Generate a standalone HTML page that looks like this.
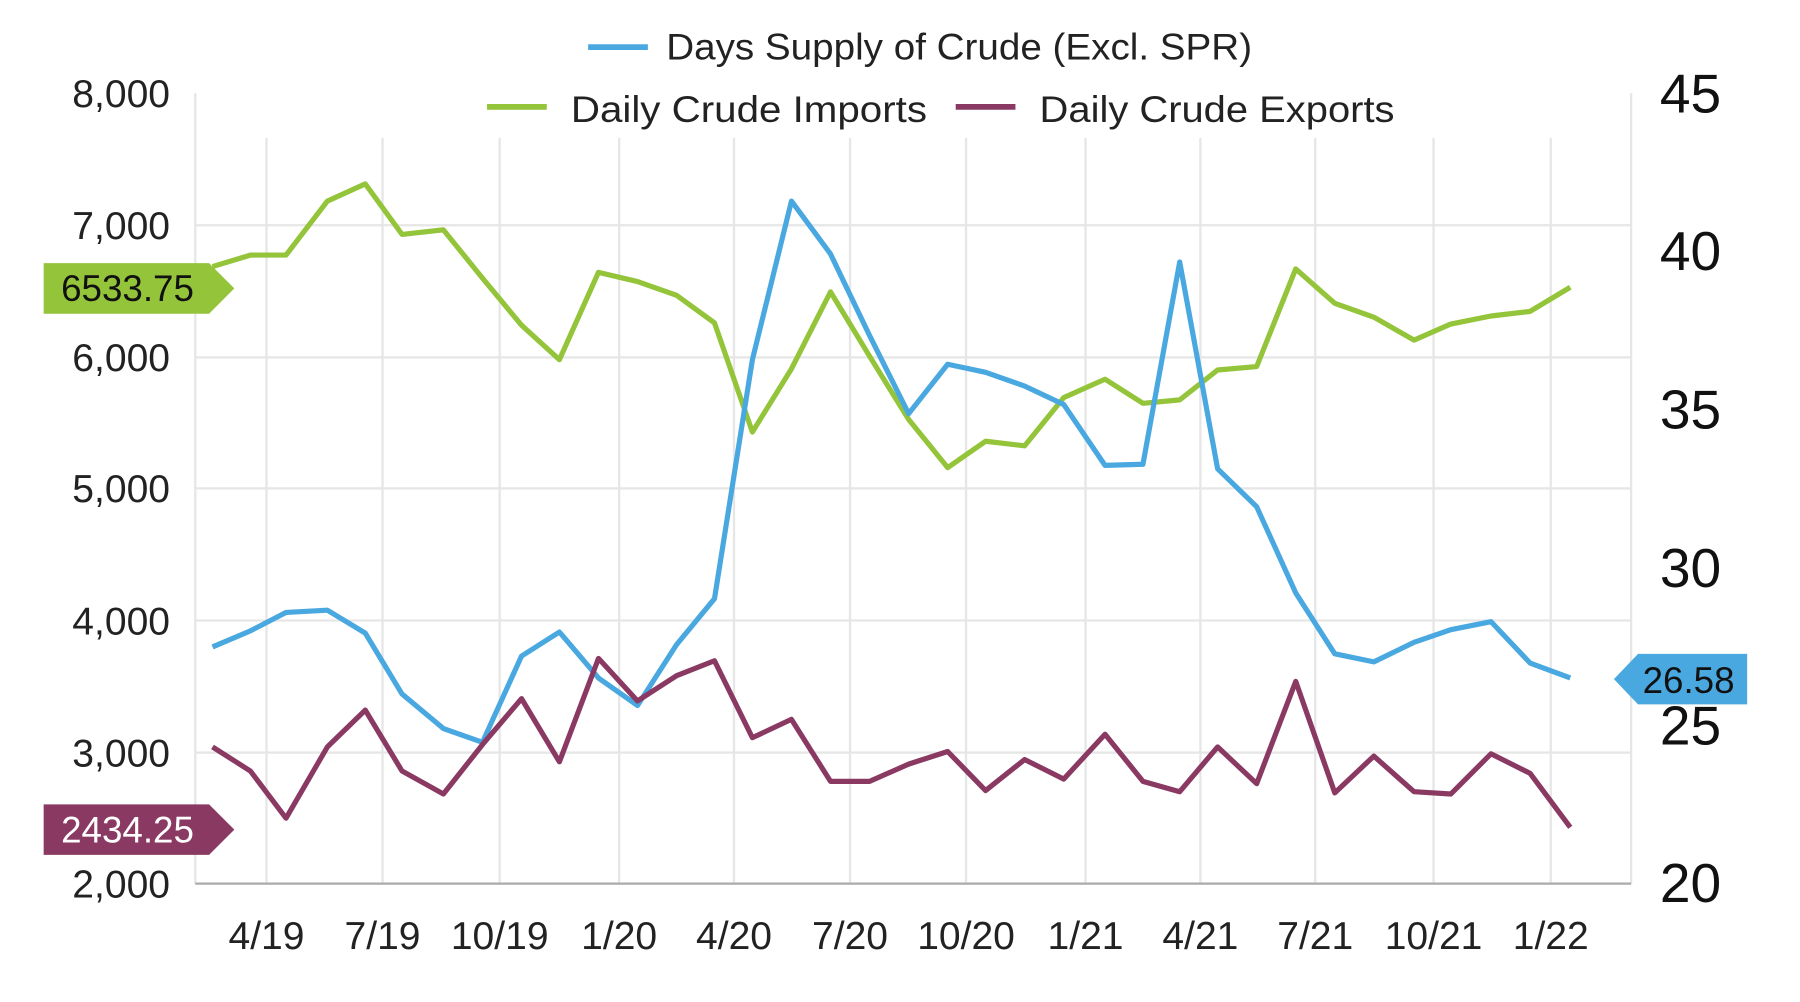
<!DOCTYPE html>
<html><head><style>html,body{margin:0;padding:0;background:#fff}svg{display:block}</style></head>
<body>
<svg width="1800" height="1002" viewBox="0 0 1567 872" preserveAspectRatio="none" xmlns="http://www.w3.org/2000/svg" font-family="Liberation Sans, sans-serif">
<g stroke="#e6e6e6" stroke-width="2">
<line x1="170" y1="196" x2="1420" y2="196"/><line x1="170" y1="311" x2="1420" y2="311"/><line x1="170" y1="425" x2="1420" y2="425"/><line x1="170" y1="540" x2="1420" y2="540"/><line x1="170" y1="655" x2="1420" y2="655"/>
<line x1="170" y1="81" x2="170" y2="769"/><line x1="1420" y1="81" x2="1420" y2="769"/>
<line x1="232" y1="120" x2="232" y2="769"/><line x1="333" y1="120" x2="333" y2="769"/><line x1="435" y1="120" x2="435" y2="769"/><line x1="539" y1="120" x2="539" y2="769"/><line x1="639" y1="120" x2="639" y2="769"/><line x1="740" y1="120" x2="740" y2="769"/><line x1="841" y1="120" x2="841" y2="769"/><line x1="945" y1="120" x2="945" y2="769"/><line x1="1045" y1="120" x2="1045" y2="769"/><line x1="1145" y1="120" x2="1145" y2="769"/><line x1="1248" y1="120" x2="1248" y2="769"/><line x1="1350" y1="120" x2="1350" y2="769"/>
</g>
<line x1="170" y1="769" x2="1420" y2="769" stroke="#aaa" stroke-width="2"/>
<g font-size="34" fill="#222" text-anchor="end">
<text x="148" y="93">8,000</text><text x="148" y="208">7,000</text><text x="148" y="323">6,000</text><text x="148" y="437">5,000</text><text x="148" y="552">4,000</text><text x="148" y="667">3,000</text><text x="148" y="781">2,000</text>
</g>
<g font-size="48" fill="#111">
<text x="1445" y="98">45</text><text x="1445" y="235">40</text><text x="1445" y="373">35</text><text x="1445" y="511">30</text><text x="1445" y="648">25</text><text x="1445" y="785">20</text>
</g>
<g font-size="34" fill="#222" text-anchor="middle">
<text x="232" y="826">4/19</text><text x="333" y="826">7/19</text><text x="435" y="826">10/19</text><text x="539" y="826">1/20</text><text x="639" y="826">4/20</text><text x="740" y="826">7/20</text><text x="841" y="826">10/20</text><text x="945" y="826">1/21</text><text x="1045" y="826">4/21</text><text x="1145" y="826">7/21</text><text x="1248" y="826">10/21</text><text x="1350" y="826">1/22</text>
</g>
<g font-size="32" fill="#222">
<line x1="512" y1="41" x2="564" y2="41" stroke="#4aa8e0" stroke-width="5"/><text x="580" y="52" textLength="510" lengthAdjust="spacingAndGlyphs">Days Supply of Crude (Excl. SPR)</text>
<line x1="424" y1="93" x2="476" y2="93" stroke="#94c43a" stroke-width="5"/><text x="497" y="106" textLength="310" lengthAdjust="spacingAndGlyphs">Daily Crude Imports</text>
<line x1="832" y1="93" x2="884" y2="93" stroke="#8a3a62" stroke-width="5"/><text x="905" y="106" textLength="309" lengthAdjust="spacingAndGlyphs">Daily Crude Exports</text>
</g>
<g fill="none" stroke-width="4.5" stroke-linejoin="round">
<polyline stroke="#94c43a" points="185,232 218,222 249,222 285,175 318,160 350,204 386,200 420,242 454,283 487,313 521,237 555,245 589,257 622,281 655,376 689,321 723,254 757,310 791,365 825,407 858,384 892,388 926,346 962,330 995,351 1027,348 1060,322 1094,319 1128,234 1162,264 1196,276 1231,296 1263,282 1298,275 1332,271 1367,250"/>
<polyline stroke="#4aa8e0" points="185,563 218,549 249,533 285,531 318,551 350,604 386,634 420,646 454,571 487,550 521,590 555,614 589,561 622,521 655,313 689,175 723,221 757,292 791,360 825,317 858,324 892,336 926,352 962,405 995,404 1027,228 1060,408 1094,441 1128,516 1162,569 1196,576 1231,559 1263,548 1298,541 1332,577 1367,590"/>
<polyline stroke="#8a3a62" points="185,650 218,671 249,712 285,650 318,618 350,671 386,691 420,648 454,608 487,663 521,573 555,610 589,588 622,575 655,642 689,626 723,680 757,680 791,665 825,654 858,688 892,661 926,678 962,639 995,680 1027,689 1060,650 1094,682 1128,593 1162,690 1196,658 1231,689 1263,691 1298,656 1332,673 1367,720"/>
</g>
<polygon points="38,229 182,229 204,251 182,273 38,273" fill="#94c43a"/>
<text x="111" y="262" font-size="32" fill="#111" text-anchor="middle">6533.75</text>
<polygon points="38,700 182,700 204,722 182,744 38,744" fill="#8a3a62"/>
<text x="111" y="733" font-size="32" fill="#fff" text-anchor="middle">2434.25</text>
<polygon points="1405,591 1426,569 1521,569 1521,613 1426,613" fill="#4aa8e0"/>
<text x="1470" y="603" font-size="32" fill="#111" text-anchor="middle">26.58</text>
</svg>
</body></html>
